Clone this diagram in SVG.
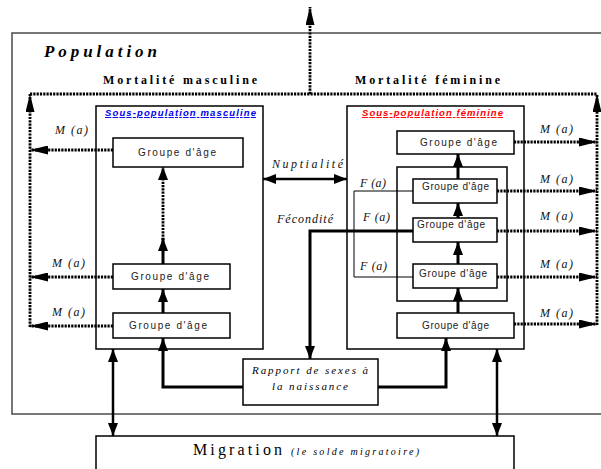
<svg xmlns="http://www.w3.org/2000/svg" width="601" height="469" viewBox="0 0 601 469">
<style>
.box{fill:#fff;stroke:#000;stroke-width:1.5}
.outer{fill:#fff;stroke:#555;stroke-width:1.6}
.dot{fill:none;stroke:#000;stroke-width:2.8;stroke-dasharray:2.2 1.1}
.thick{fill:none;stroke:#000;stroke-width:3}
.med{fill:none;stroke:#000;stroke-width:2.5}
.thin{fill:none;stroke:#000;stroke-width:1}
.sans{font-family:"Liberation Sans",Arial,sans-serif;fill:#222}
.serif{font-family:"Liberation Serif","Times New Roman",serif;fill:#000}
.grp{font-family:"Liberation Sans",Arial,sans-serif;fill:#222;font-size:10px;text-anchor:start}
.lab{font-family:"Liberation Serif","Times New Roman",serif;font-style:italic;font-size:12px;fill:#111}
</style>
<defs>
<marker id="hd" viewBox="0 0 18 9" refX="18" refY="4.5" markerWidth="18" markerHeight="9" markerUnits="userSpaceOnUse" orient="auto-start-reverse"><path d="M0,0 L18,4.5 L0,9 Z" fill="#000"/></marker>
<marker id="hs" viewBox="0 0 13 10" refX="13" refY="5" markerWidth="13" markerHeight="10" markerUnits="userSpaceOnUse" orient="auto-start-reverse"><path d="M0,0 L13,5 L0,10 Z" fill="#000"/></marker>
</defs>

<g id="population">
<rect class="outer" x="12" y="33" width="600" height="381"/>
<text class="serif" x="44" y="57" font-size="17" font-weight="bold" font-style="italic" textLength="113" lengthAdjust="spacing">Population</text>
</g>
<text class="serif" x="103" y="84" font-size="12" font-weight="bold" textLength="154" lengthAdjust="spacing">Mortalité masculine</text>
<text class="serif" x="355" y="84" font-size="12" font-weight="bold" textLength="145" lengthAdjust="spacing">Mortalité féminine</text>

<g id="male">
<rect class="box" x="96" y="106" width="167" height="243"/>
<text class="sans" x="105" y="116" font-size="9.5" font-weight="bold" font-style="italic" style="fill:#0000ee" text-decoration="underline" textLength="151" lengthAdjust="spacing">Sous-population masculine</text>
</g>
<g id="m-g1"><rect class="box" x="113" y="138" width="130" height="29"/><text class="grp" x="138" y="156" font-size="11" textLength="78" lengthAdjust="spacing">Groupe d'âge</text></g>
<g id="m-g2"><rect class="box" x="113" y="264" width="117" height="25"/><text class="grp" x="131" y="280" font-size="10.5" textLength="78" lengthAdjust="spacing">Groupe d'âge</text></g>
<g id="m-g3"><rect class="box" x="113" y="313" width="117" height="25"/><text class="grp" x="129" y="329" font-size="10.5" textLength="78" lengthAdjust="spacing">Groupe d'âge</text></g>

<g id="female">
<rect class="box" x="347" y="106" width="177" height="243"/>
<text class="sans" x="362" y="116" font-size="9.5" font-weight="bold" font-style="italic" style="fill:#ff0000" text-decoration="underline" textLength="141" lengthAdjust="spacing">Sous-population féminine</text>
</g>
<g id="f-top"><rect class="box" x="397" y="131" width="117" height="23"/><text class="grp" x="420" y="146" font-size="10.5" textLength="77" lengthAdjust="spacing">Groupe d'âge</text></g>
<g id="f-fertile"><rect class="box" x="397" y="167" width="110" height="134" style="fill:none"/></g>
<g id="f-g1"><rect class="box" x="413" y="179" width="84" height="24"/><text class="grp" x="422" y="190" font-size="9.5" textLength="67" lengthAdjust="spacing">Groupe d'âge</text></g>
<g id="f-g2"><rect class="box" x="413" y="218" width="84" height="24"/><text class="grp" x="417" y="228" font-size="9.5" textLength="68" lengthAdjust="spacing">Groupe d'âge</text></g>
<g id="f-g3"><rect class="box" x="413" y="264" width="84" height="24"/><text class="grp" x="419" y="277" font-size="9.5" textLength="68" lengthAdjust="spacing">Groupe d'âge</text></g>
<g id="f-bottom"><rect class="box" x="397" y="313" width="117" height="25"/><text class="grp" x="422" y="329" font-size="9.5" textLength="67" lengthAdjust="spacing">Groupe d'âge</text></g>

<g id="rapport">
<rect class="box" x="243" y="359" width="135" height="46"/>
<text class="serif" x="310" y="374" font-size="11" font-style="italic" text-anchor="middle" textLength="116" lengthAdjust="spacing">Rapport de sexes à</text>
<text class="serif" x="310" y="390" font-size="11" font-style="italic" text-anchor="middle" textLength="76" lengthAdjust="spacing">la naissance</text>
</g>

<g id="migration">
<rect class="box" x="96" y="436" width="418" height="40"/>
<text class="serif" x="193" y="455" font-size="16" textLength="89" lengthAdjust="spacing">Migration</text>
<text class="serif" x="291" y="455" font-size="10" font-style="italic" textLength="128" lengthAdjust="spacing">(le solde migratoire)</text>
</g>

<g id="connectors">
<path class="dot" d="M310,94 V7" marker-end="url(#hd)"/>
<path class="dot" d="M30,94 H597"/>
<path class="dot" d="M30,327 V94" marker-end="url(#hd)"/>
<path class="dot" d="M597,325 V94" marker-end="url(#hd)"/>
<path class="dot" d="M113,150 H30" marker-end="url(#hd)"/>
<path class="dot" d="M113,277 H30" marker-end="url(#hd)"/>
<path class="dot" d="M113,326 H30" marker-end="url(#hd)"/>
<path class="dot" d="M514,142 H597" marker-end="url(#hd)"/>
<path class="dot" d="M497,191 H597" marker-end="url(#hd)"/>
<path class="dot" d="M497,231 H597" marker-end="url(#hd)"/>
<path class="dot" d="M497,277 H597" marker-end="url(#hd)"/>
<path class="dot" d="M514,324 H597" marker-end="url(#hd)"/>
<path class="dot" d="M163,240 V167" marker-end="url(#hs)"/>
<path class="thick" d="M163,264 V238" marker-end="url(#hs)"/>
<path class="thick" d="M163,313 V289" marker-end="url(#hs)"/>
<path class="thick" d="M243,387 H163 V338" marker-end="url(#hs)"/>
<path class="thick" d="M378,387 H446 V338" marker-end="url(#hs)"/>
<path class="thick" d="M413,231 H310 V359" marker-end="url(#hs)"/>
<path class="thick" d="M458,313 V288" marker-end="url(#hs)"/>
<path class="thick" d="M458,264 V242" marker-end="url(#hs)"/>
<path class="thick" d="M458,218 V203" marker-end="url(#hs)"/>
<path class="thick" d="M458,179 V154" marker-end="url(#hs)"/>
<path class="med" d="M263,179 H347" marker-start="url(#hs)" marker-end="url(#hs)"/>
<path class="med" d="M113,349 V436" marker-start="url(#hs)" marker-end="url(#hs)"/>
<path class="med" d="M497,349 V436" marker-start="url(#hs)" marker-end="url(#hs)"/>
<path class="thin" d="M413,191 H354 V277 H413"/>
</g>

<g id="labels">
<text class="lab" x="272" y="168" textLength="71" lengthAdjust="spacing">Nuptialité</text>
<text class="lab" x="277" y="223" textLength="56" lengthAdjust="spacing">Fécondité</text>
<text class="lab" x="360" y="187" textLength="26" lengthAdjust="spacing">F (a)</text>
<text class="lab" x="363" y="221" textLength="27" lengthAdjust="spacing">F (a)</text>
<text class="lab" x="360" y="270" textLength="27" lengthAdjust="spacing">F (a)</text>
<text class="lab" x="55" y="134" textLength="33" lengthAdjust="spacing">M (a)</text>
<text class="lab" x="52" y="267" textLength="33" lengthAdjust="spacing">M (a)</text>
<text class="lab" x="52" y="316" textLength="33" lengthAdjust="spacing">M (a)</text>
<text class="lab" x="540" y="133" textLength="33" lengthAdjust="spacing">M (a)</text>
<text class="lab" x="540" y="183" textLength="33" lengthAdjust="spacing">M (a)</text>
<text class="lab" x="540" y="220" textLength="33" lengthAdjust="spacing">M (a)</text>
<text class="lab" x="540" y="268" textLength="33" lengthAdjust="spacing">M (a)</text>
<text class="lab" x="540" y="317" textLength="33" lengthAdjust="spacing">M (a)</text>
</g>
</svg>
